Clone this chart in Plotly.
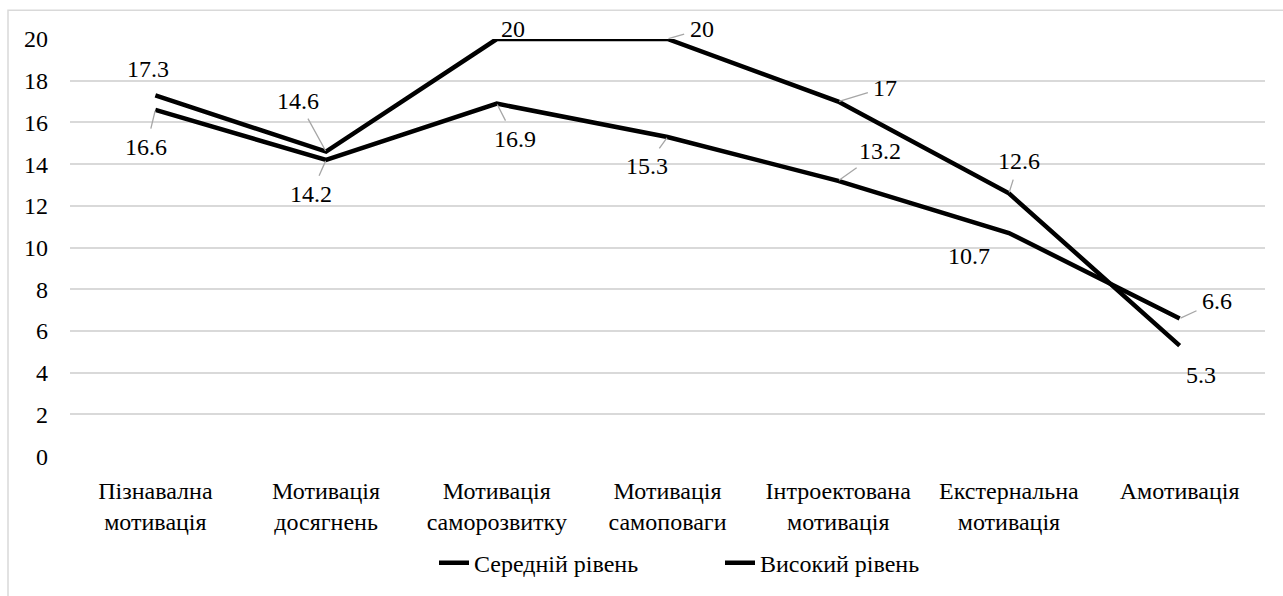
import plotly.graph_objects as go

categories = [
    "Пізнавална<br>мотивація",
    "Мотивація<br>досягнень",
    "Мотивація<br>саморозвитку",
    "Мотивація<br>самоповаги",
    "Інтроектована<br>мотивація",
    "Екстернальна<br>мотивація",
    "Амотивація",
]
medium_level = [16.6, 14.2, 16.9, 15.3, 13.2, 10.7, 6.6]
high_level = [17.3, 14.6, 20, 20, 17, 12.6, 5.3]
y_ticks = [0, 2, 4, 6, 8, 10, 12, 14, 16, 18, 20]

# label offsets (pixels) from each point: (dx, dy, leader line?)
medium_offsets = [(-9, 37, True), (-15, 34, True), (18, 35, True), (-21, 29, True),
                  (42, -30, True), (-40, 23, False), (37, -17, True)]
high_offsets = [(-7, -26, False), (-28, -51, True), (16, -10, False), (34, -10, True),
                (47, -14, True), (10, -32, True), (21, 29, False)]

FONT = "Liberation Serif"
SIZE = 24

# page geometry (pixels)
W, H = 1283, 596
M_L, M_R, M_T, M_B = 70, 18, 39, 10
PLOT_BOTTOM = 460
paper_w = W - M_L - M_R
paper_h = H - M_T - M_B


def px_x(px):
    return (px - M_L) / paper_w


def px_y(py):
    return (H - M_B - py) / paper_h


fig = go.Figure()
fig.add_trace(go.Scatter(
    x=categories, y=medium_level, mode="lines", name="Середній рівень",
    line=dict(color="black", width=4.5), cliponaxis=False,
))
fig.add_trace(go.Scatter(
    x=categories, y=high_level, mode="lines", name="Високий рівень",
    line=dict(color="black", width=4.5), cliponaxis=False,
))

annotations = []
for series, offsets in ((medium_level, medium_offsets), (high_level, high_offsets)):
    for cat, val, (dx, dy, leader) in zip(categories, series, offsets):
        annotations.append(dict(
            x=cat, y=val, xref="x", yref="y",
            text=f"{val:g}", showarrow=True,
            ax=dx, ay=dy, axref="pixel", ayref="pixel",
            arrowhead=0, arrowwidth=1.3,
            arrowcolor="#a6a6a6" if leader else "rgba(0,0,0,0)",
            standoff=1, startstandoff=4,
            font=dict(family=FONT, size=SIZE, color="black"),
        ))

fig.update_layout(
    template="none",
    width=W, height=H,
    margin=dict(l=M_L, r=M_R, t=M_T, b=M_B),
    paper_bgcolor="white", plot_bgcolor="white",
    font=dict(family=FONT, size=SIZE, color="black"),
    showlegend=True,
    legend=dict(
        orientation="h", x=px_x(434), xanchor="left",
        y=px_y(568), yanchor="middle",
        font=dict(family=FONT, size=SIZE, color="black"),
        entrywidth=241, entrywidthmode="pixels", traceorder="normal",
        bgcolor="rgba(0,0,0,0)",
    ),
    annotations=annotations,
    shapes=[dict(
        type="rect", xref="paper", yref="paper",
        x0=px_x(8), x1=px_x(1300),
        y0=px_y(620), y1=px_y(10),
        line=dict(color="#d9d9d9", width=1.5), fillcolor="rgba(0,0,0,0)",
        layer="below",
    )],
)
fig.update_xaxes(
    range=[-0.5, len(categories) - 0.5], automargin=False,
    showgrid=False, zeroline=False, showline=False, ticks="",
    tickfont=dict(family=FONT, size=SIZE, color="black"),
    ticklabelstandoff=18,
)
fig.update_yaxes(
    range=[0, 20], tickvals=y_ticks, automargin=False,
    domain=[px_y(PLOT_BOTTOM), 1],
    showgrid=True, gridcolor="#d9d9d9", gridwidth=1.5,
    zeroline=False, showline=False, ticks="",
    tickfont=dict(family=FONT, size=SIZE, color="black"),
    ticklabelstandoff=21,
)

fig.write_html("out.html")
